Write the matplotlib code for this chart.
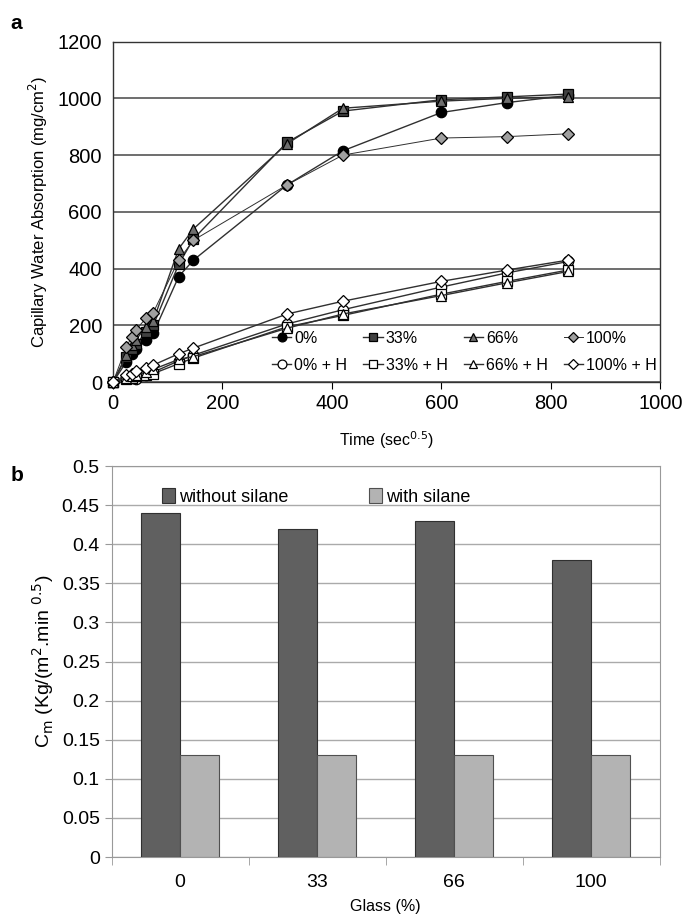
import matplotlib
matplotlib.use("Agg")
import matplotlib.pyplot as plt
import numpy as np

plt.rcParams['font.family'] = ['Liberation Sans', 'DejaVu Sans']

# panel a: capillary absorption vs sqrt(time)
time_sqrt = [0, 24.5, 34.6, 42.4, 60, 73.5, 120, 147, 318, 420, 600, 720, 832]
abs_0 = [0, 72, 100, 115, 150, 172, 372, 430, 695, 815, 950, 985, 1010]
abs_33 = [0, 90, 115, 135, 175, 200, 415, 505, 845, 955, 995, 1005, 1015]
abs_66 = [0, 95, 130, 150, 195, 215, 470, 540, 840, 965, 990, 1000, 1005]
abs_100 = [0, 125, 160, 185, 225, 245, 430, 500, 695, 800, 860, 865, 875]
abs_0h = [0, 15, 15, 10, 25, 35, 75, 95, 205, 255, 335, 385, 425]
abs_33h = [0, 10, 15, 20, 25, 30, 65, 85, 195, 235, 310, 355, 395]
abs_66h = [0, 15, 20, 25, 35, 45, 80, 90, 190, 240, 305, 350, 390]
abs_100h = [0, 25, 30, 40, 50, 60, 100, 120, 240, 285, 355, 395, 430]

# panel b: sorptivity coefficient
glass = ['0', '33', '66', '100']
cm_without = [0.44, 0.42, 0.43, 0.38]
cm_with = [0.13, 0.13, 0.13, 0.13]

fig = plt.figure(figsize=(6.85, 9.23), dpi=100)

# ---- panel a ----
ax = fig.add_axes([0.165, 0.586, 0.799, 0.369])
series = [
    (abs_0, '0%', 'o', 'black', 1.0),
    (abs_33, '33%', 's', '#404040', 1.0),
    (abs_66, '66%', '^', '#6e6e6e', 1.0),
    (abs_100, '100%', 'D', '#a0a0a0', 0.7),
    (abs_0h, '0% + H', 'o', 'white', 1.0),
    (abs_33h, '33% + H', 's', 'white', 1.0),
    (abs_66h, '66% + H', '^', 'white', 1.0),
    (abs_100h, '100% + H', 'D', 'white', 1.0),
]
for ys, lbl, mk, fc, lw in series:
    ms = 6 if mk == 'D' else 7.5
    ax.plot(time_sqrt, ys, color='#303030', lw=lw, marker=mk, markersize=ms,
            markerfacecolor=fc, markeredgecolor='black', markeredgewidth=0.9,
            label=lbl, clip_on=False, zorder=3)

ax.set_xlim(0, 1000)
ax.set_ylim(0, 1200)
ax.set_xticks(np.arange(0, 1001, 200))
ax.set_yticks(np.arange(0, 1201, 200))
ax.yaxis.grid(True, color='#555555', lw=1.2)
ax.set_axisbelow(True)
ax.tick_params(axis='both', labelsize=14.5, length=5, direction='out')
ax.tick_params(axis='y', length=0, pad=8)
for s in ax.spines.values():
    s.set_color('#333333')
    s.set_linewidth(1.0)
ax.set_xlabel('Time (sec$^{0.5}$)', fontsize=11.5, labelpad=12)
ax.set_ylabel('Capillary Water Absorption (mg/cm$^{2}$)', fontsize=12, labelpad=5)
h, l = ax.get_legend_handles_labels()
order = [0, 4, 1, 5, 2, 6, 3, 7]
ax.legend([h[i] for i in order], [l[i] for i in order], ncol=4, loc='lower right',
          bbox_to_anchor=(1.02, -0.015), frameon=False, fontsize=11.5, handlelength=1.2,
          handletextpad=0.2, columnspacing=1.0, labelspacing=0.75, markerscale=0.85)
fig.text(0.015, 0.985, 'a', fontsize=15, fontweight='bold', va='top')

# ---- panel b ----
bx = fig.add_axes([0.163, 0.0715, 0.8, 0.4236])
pos = np.arange(len(glass))
w = 0.285
bx.bar(pos - w / 2, cm_without, w, color='#606060', edgecolor='#303030', lw=0.8,
       label='without silane', zorder=3)
bx.bar(pos + w / 2, cm_with, w, color='#b3b3b3', edgecolor='#505050', lw=0.8,
       label='with silane', zorder=3)
bx.set_xlim(-0.5, len(glass) - 0.5)
bx.set_ylim(0, 0.5)
bx.set_yticks(np.arange(0, 0.501, 0.05))
bx.set_yticklabels(['0', '0.05', '0.1', '0.15', '0.2', '0.25', '0.3', '0.35', '0.4', '0.45', '0.5'])
bx.set_xticks(pos)
bx.set_xticklabels(glass)
bx.set_xticks(np.arange(-0.5, len(glass), 1.0), minor=True)
bx.tick_params(axis='x', which='major', length=0, labelsize=14, pad=12)
bx.tick_params(axis='x', which='minor', length=6, color='#999999')
bx.tick_params(axis='y', labelsize=14, length=5, color='#999999')
bx.yaxis.grid(True, color='#aaaaaa', lw=1.0)
bx.set_axisbelow(True)
for s in bx.spines.values():
    s.set_color('#999999')
bx.set_xlabel('Glass (%)', fontsize=11.5, labelpad=6)
bx.set_ylabel('C$_{\\mathrm{m}}$ (Kg/(m$^{2}$.min $^{0.5}$)', fontsize=14, labelpad=4)
bx.legend(ncol=2, loc='upper left', bbox_to_anchor=(0.063, 0.985), frameon=False,
          fontsize=13, handlelength=0.7, handleheight=0.9, handletextpad=0.2,
          columnspacing=4.5)
fig.text(0.015, 0.495, 'b', fontsize=15, fontweight='bold', va='top')

fig.savefig('out.png', dpi=100)
